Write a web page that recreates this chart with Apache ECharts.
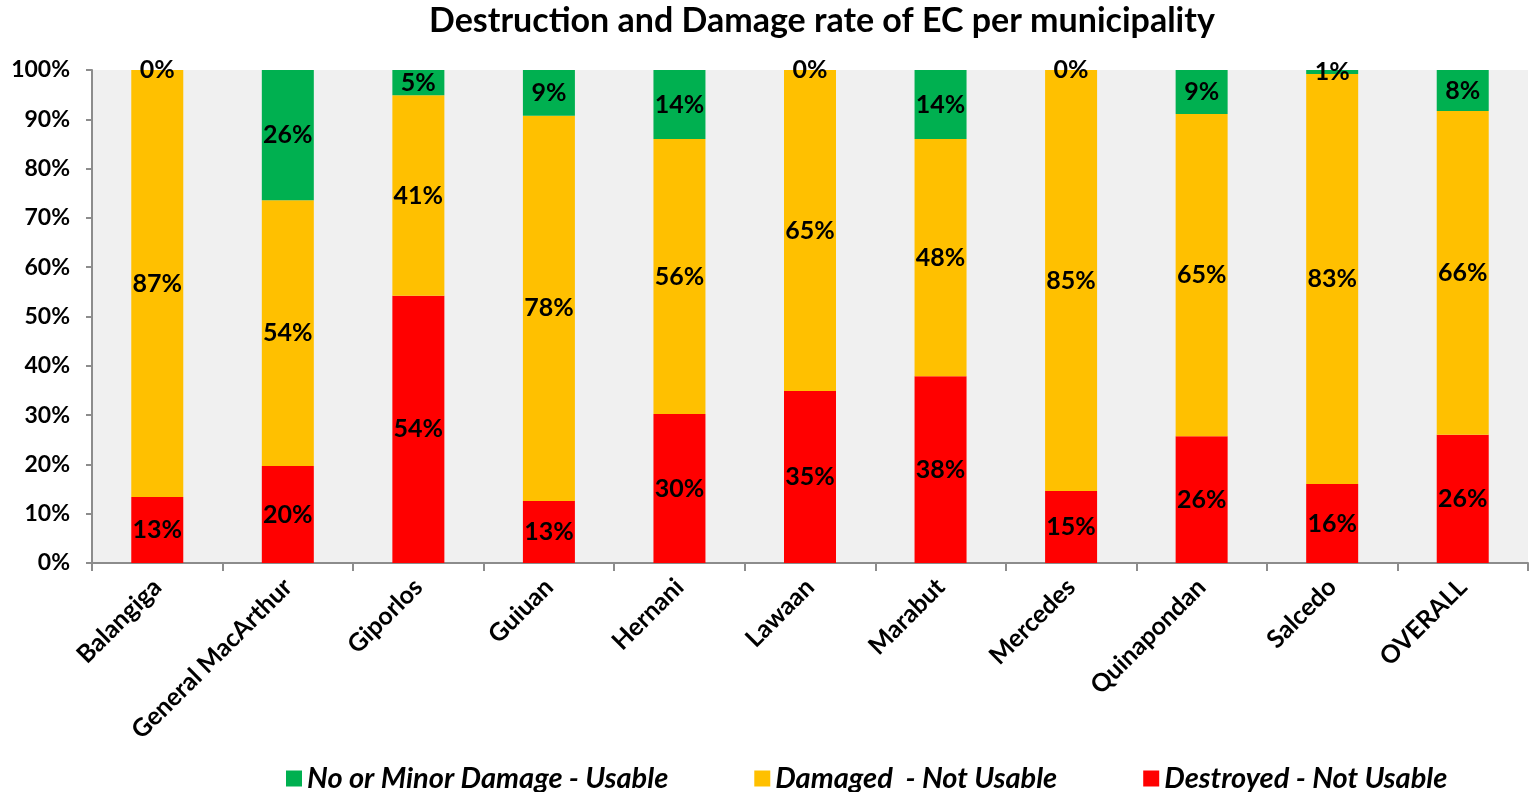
<!DOCTYPE html>
<html>
<head>
<meta charset="utf-8">
<script src="https://cdn.jsdelivr.net/npm/echarts@6/dist/echarts.min.js"></script>
<style>
  html, body { margin: 0; padding: 0; background: #fff; }
  #chart { width: 1532px; height: 792px; }
</style>
</head>
<body>
<div id="chart"></div>
<script>
var municipalities = ['Balangiga', 'General MacArthur', 'Giporlos', 'Guiuan', 'Hernani', 'Lawaan',
    'Marabut', 'Mercedes', 'Quinapondan', 'Salcedo', 'OVERALL'];
// shares in percent
var destroyed = [13.4, 19.7, 54.2, 12.6, 30.2, 34.9, 37.9, 14.6, 25.7, 16.0, 26.0];
var damaged = [86.6, 53.9, 40.7, 78.1, 55.8, 65.1, 48.1, 85.4, 65.4, 83.2, 65.7];
var usable = [0, 26.4, 5.1, 9.3, 14.0, 0, 14.0, 0, 8.9, 0.8, 8.3];
var yTicks = [0, 10, 20, 30, 40, 50, 60, 70, 80, 90, 100];

var fontName = 'Lato';

var segLabel = {
    show: true,
    position: 'inside',
    color: '#000',
    fontFamily: fontName,
    fontWeight: 'bold',
    fontSize: 25,
    formatter: function (p) { return Math.round(p.value) + '%'; }
};

function barSeries(name, data, color) {
    return {
        name: name,
        type: 'bar',
        stack: 'total',
        barWidth: 52,
        data: data,
        itemStyle: { color: color },
        label: segLabel
    };
}

var option = {
    backgroundColor: '#fff',
    animation: false,
    title: {
        text: 'Destruction and Damage rate of EC per municipality',
        left: 424,
        top: -1,
        textStyle: { fontFamily: fontName, fontWeight: 'bold', fontSize: 34, color: '#000' }
    },
    legend: {
        data: ['No or Minor Damage - Usable', 'Damaged  - Not Usable', 'Destroyed - Not Usable'],
        left: 281,
        bottom: -6,
        itemWidth: 16,
        itemHeight: 16,
        itemGap: 86,
        icon: 'rect',
        textStyle: { fontFamily: fontName, fontWeight: 'bold', fontStyle: 'italic', fontSize: 29, color: '#000' }
    },
    grid: {
        left: 92,
        right: 4,
        top: 70,
        bottom: 229,
        show: true,
        backgroundColor: '#F0F0F0',
        borderWidth: 0
    },
    xAxis: {
        type: 'category',
        data: municipalities,
        axisLine: { lineStyle: { color: '#8c8c8c', width: 2 } },
        axisTick: { show: true, length: 8, lineStyle: { color: '#8c8c8c', width: 2 } },
        axisLabel: {
            rotate: 45,
            interval: 0,
            margin: 20,
            color: '#000',
            fontFamily: fontName,
            fontWeight: 'bold',
            fontSize: 25
        }
    },
    yAxis: {
        type: 'value',
        min: yTicks[0],
        max: yTicks[yTicks.length - 1],
        interval: 10,
        splitLine: { show: false },
        axisLine: { show: true, lineStyle: { color: '#8c8c8c', width: 2 } },
        axisTick: { show: true, length: 6, lineStyle: { color: '#8c8c8c', width: 2 } },
        axisLabel: {
            margin: 22,
            color: '#000',
            fontFamily: fontName,
            fontWeight: 'bold',
            fontSize: 23,
            formatter: '{value}%'
        }
    },
    series: [
        barSeries('Destroyed - Not Usable', destroyed, '#FF0000'),
        barSeries('Damaged  - Not Usable', damaged, '#FFC000'),
        barSeries('No or Minor Damage - Usable', usable, '#00B050')
    ]
};

var chart = echarts.init(document.getElementById('chart'));
chart.setOption(option);
</script>
</body>
</html>
